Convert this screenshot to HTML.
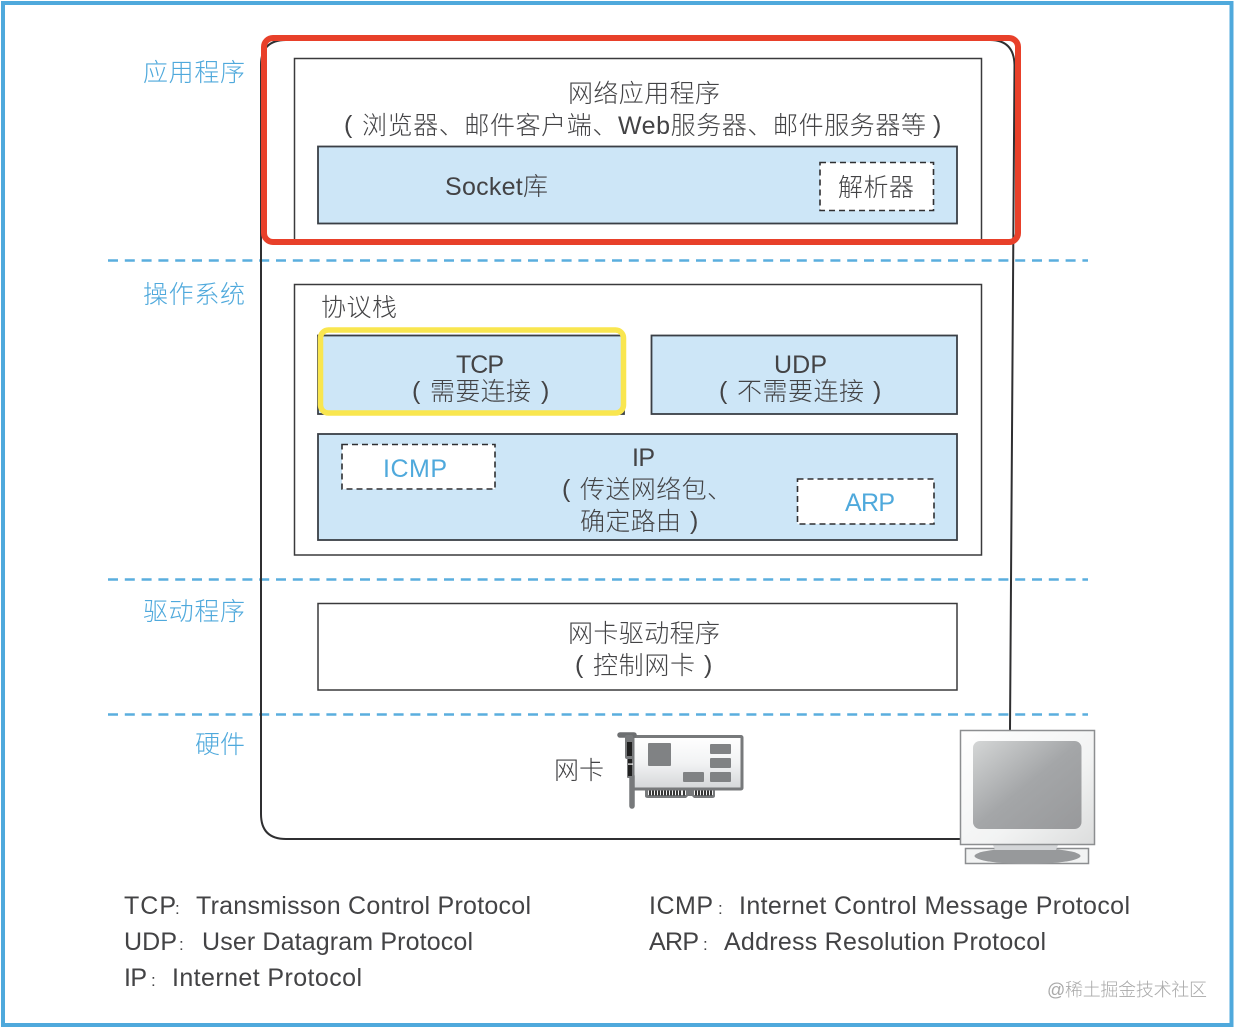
<!DOCTYPE html>
<html><head><meta charset="utf-8"><style>
html,body{margin:0;padding:0;background:#fff}
svg{display:block}
text{font-family:"Liberation Sans","Noto Sans CJK SC",sans-serif;font-size:25px;fill:#434345;font-weight:300;text-spacing-trim:space-all;font-feature-settings:"chws" 0,"halt" 0,"palt" 0}
.b{fill:#4fa9dc}
.c{font-size:17px}
</style></head><body>
<svg width="1234" height="1028" viewBox="0 0 1234 1028" xmlns="http://www.w3.org/2000/svg">
<defs>
<linearGradient id="g1" x1="0" y1="0" x2="1" y2="1"><stop offset="0" stop-color="#d4d6d6"/><stop offset=".5" stop-color="#a4a6a8"/><stop offset="1" stop-color="#98999b"/></linearGradient>
<linearGradient id="g2" x1="0" y1="0" x2="1" y2="1"><stop offset="0" stop-color="#fff"/><stop offset=".6" stop-color="#f2f3f3"/><stop offset="1" stop-color="#dcdddd"/></linearGradient>
<linearGradient id="g3" x1="0" y1="0" x2="0" y2="1"><stop offset="0" stop-color="#fff"/><stop offset=".5" stop-color="#f2f3f4"/><stop offset="1" stop-color="#d4d6d8"/></linearGradient>
</defs>
<rect width="1234" height="1028" fill="#fff"/>
<rect x="3" y="3" width="1228.500" height="1022" fill="none" stroke="#4fa9dc" stroke-width="4"/>

<g fill="none" stroke="#5aaede" stroke-width="2.500" stroke-dasharray="10 6.800">
<path d="M108 260.500H1088"/><path d="M108 579.500H1088"/><path d="M108 714.500H1088"/>
</g>

<path d="M261 65Q261 40 286 40H990Q1014 40 1014.500 65L1010 730M960 839H286Q261 839 261 814V65" fill="none" stroke="#2f2f31" stroke-width="2"/>

<path d="M294.500 242V58.500H981.500V242" fill="#fff" stroke="#3a3a3c" stroke-width="1.500"/>
<rect x="318" y="146.500" width="639" height="77" fill="#cde6f7" stroke="#3a3f46" stroke-width="1.800"/>
<rect x="820" y="162.500" width="113.500" height="48" fill="#fff" stroke="#2f2f31" stroke-width="1.600" stroke-dasharray="6 4"/>

<rect x="294.500" y="284.500" width="687" height="270.500" fill="#fff" stroke="#3a3a3c" stroke-width="1.500"/>
<rect x="318" y="335.500" width="306" height="78.500" fill="#cde6f7" stroke="#3a3f46" stroke-width="1.800"/>
<rect x="651.500" y="335.500" width="305.500" height="78.500" fill="#cde6f7" stroke="#3a3f46" stroke-width="1.800"/>
<rect x="318" y="434" width="639" height="106" fill="#cde6f7" stroke="#3a3f46" stroke-width="1.800"/>
<rect x="342" y="444.500" width="153" height="44.500" fill="#fff" stroke="#2f2f31" stroke-width="1.600" stroke-dasharray="6 4"/>
<rect x="797.500" y="479" width="136.500" height="45" fill="#fff" stroke="#2f2f31" stroke-width="1.600" stroke-dasharray="6 4"/>
<rect x="318" y="603.500" width="639" height="86.500" fill="#fff" stroke="#3a3a3c" stroke-width="1.500"/>

<rect x="264" y="38" width="754" height="204" rx="9" fill="none" stroke="#e8402a" stroke-width="6"/>
<rect x="320.500" y="330" width="303" height="83" rx="8" fill="none" stroke="#f9e64f" stroke-width="5.500"/>

<!-- side labels -->
<text class="b" x="143" y="81" textLength="102">应用程序</text>
<text class="b" x="143" y="303" textLength="102">操作系统</text>
<text class="b" x="143" y="620" textLength="102">驱动程序</text>
<text class="b" x="195" y="753" textLength="50">硬件</text>

<!-- app -->
<text x="568" y="102" textLength="152">网络应用程序</text>
<text x="344" y="133">(</text>
<text x="362" y="134" textLength="564">浏览器、邮件客户端、Web服务器、邮件服务器等</text>
<text x="933" y="133">)</text>
<text x="445" y="195" textLength="103">Socket库</text>
<text x="838" y="196" textLength="76">解析器</text>

<!-- stack -->
<text x="321" y="316" textLength="76">协议栈</text>
<text x="456" y="373" textLength="48">TCP</text>
<text x="412" y="399">(</text>
<text x="430" y="400" textLength="101">需要连接</text>
<text x="541" y="399">)</text>
<text x="774" y="373" textLength="53">UDP</text>
<text x="719" y="399">(</text>
<text x="737" y="400" textLength="127">不需要连接</text>
<text x="873" y="399">)</text>
<text class="b" x="383" y="477" textLength="64">ICMP</text>
<text x="632" y="466" textLength="23">IP</text>
<text x="562" y="497">(</text>
<text x="580" y="498" textLength="152">传送网络包、</text>
<text x="580" y="530" textLength="101">确定路由</text>
<text x="690" y="529">)</text>
<text class="b" x="845" y="511" textLength="50">ARP</text>

<!-- driver -->
<text x="568" y="642" textLength="152">网卡驱动程序</text>
<text x="575" y="673">(</text>
<text x="593" y="674" textLength="102">控制网卡</text>
<text x="704" y="673">)</text>
<text x="554" y="779" textLength="50">网卡</text>

<!-- NIC -->
<g>
<path d="M645 788V796Q645 798 648 798H686L688 796H692L694 798H712Q715 798 715 796V788Z" fill="#77797b"/>
<path d="M648 789H686V795H648ZM694 789H713V795H694Z" fill="#f4f4f4"/>
<path d="M650 790V795.500M653 790V795.500M656 790V795.500M659 790V795.500M662 790V795.500M665 790V795.500M668 790V795.500M671 790V795.500M674 790V795.500M677 790V795.500M680 790V795.500M684 790V795.500M696 790V795.500M699 790V795.500M702 790V795.500M705 790V795.500M708 790V795.500M711 790V795.500" stroke="#222" stroke-width="1.800"/>
<rect x="633" y="736.500" width="109" height="52.500" fill="url(#g3)" stroke="#77797b" stroke-width="3" rx="1"/>
<rect x="648" y="743" width="23" height="23" fill="#808284" rx="1"/>
<rect x="710" y="744" width="21" height="10" fill="#808284" rx="1"/>
<rect x="710" y="758" width="21" height="10" fill="#808284" rx="1"/>
<rect x="710" y="772" width="21" height="10" fill="#808284" rx="1"/>
<rect x="683" y="772" width="21" height="10" fill="#808284" rx="1"/>
<path d="M620 735H634" stroke="#6d6f71" stroke-width="5.500" stroke-linecap="round"/>
<path d="M632 776V806" stroke="#77797b" stroke-width="5.500" stroke-linecap="round"/>
<rect x="625" y="735" width="8" height="24" fill="#77797b" rx="2"/>
<rect x="627" y="755" width="6" height="23" fill="#77797b" rx="1"/>
<rect x="627" y="742" width="5" height="14" fill="#1f1f1f"/>
<rect x="628" y="759" width="4" height="17" fill="#1f1f1f"/>
<rect x="628" y="763.500" width="5" height="1.200" fill="#fff"/>
</g>

<!-- monitor -->
<g>
<rect x="965.500" y="848.500" width="123" height="15" fill="#f2f3f3" stroke="#8c8e90" stroke-width="1.500"/>
<ellipse cx="1027.500" cy="856" rx="53" ry="8" fill="#97999b"/>
<path d="M993 845H1058L1056 850H995Z" fill="#d4d6d8"/>
<rect x="960.500" y="730.500" width="134" height="114" fill="url(#g2)" stroke="#8c8e90" stroke-width="1.500"/>
<rect x="973" y="741" width="108.500" height="88" rx="7" fill="url(#g1)"/>
</g>

<!-- legend -->
<text x="124" y="914" textLength="52">TCP</text><text class="c" x="175" y="914">:</text><text x="196" y="914" textLength="335">Transmisson Control Protocol</text>
<text x="124" y="950" textLength="53">UDP</text><text class="c" x="179" y="950">:</text><text x="202" y="950" textLength="271">User Datagram Protocol</text>
<text x="124" y="986" textLength="23">IP</text><text class="c" x="151" y="986">:</text><text x="172" y="986" textLength="190">Internet Protocol</text>
<text x="649" y="914" textLength="64">ICMP</text><text class="c" x="718" y="914">:</text><text x="739" y="914" textLength="391">Internet Control Message Protocol</text>
<text x="649" y="950" textLength="50">ARP</text><text class="c" x="703" y="950">:</text><text x="724" y="950" textLength="322">Address Resolution Protocol</text>

<text x="1047" y="996" textLength="160" style="font-size:18px;fill:#a9a9a9">@稀土掘金技术社区</text>
</svg>
</body></html>
